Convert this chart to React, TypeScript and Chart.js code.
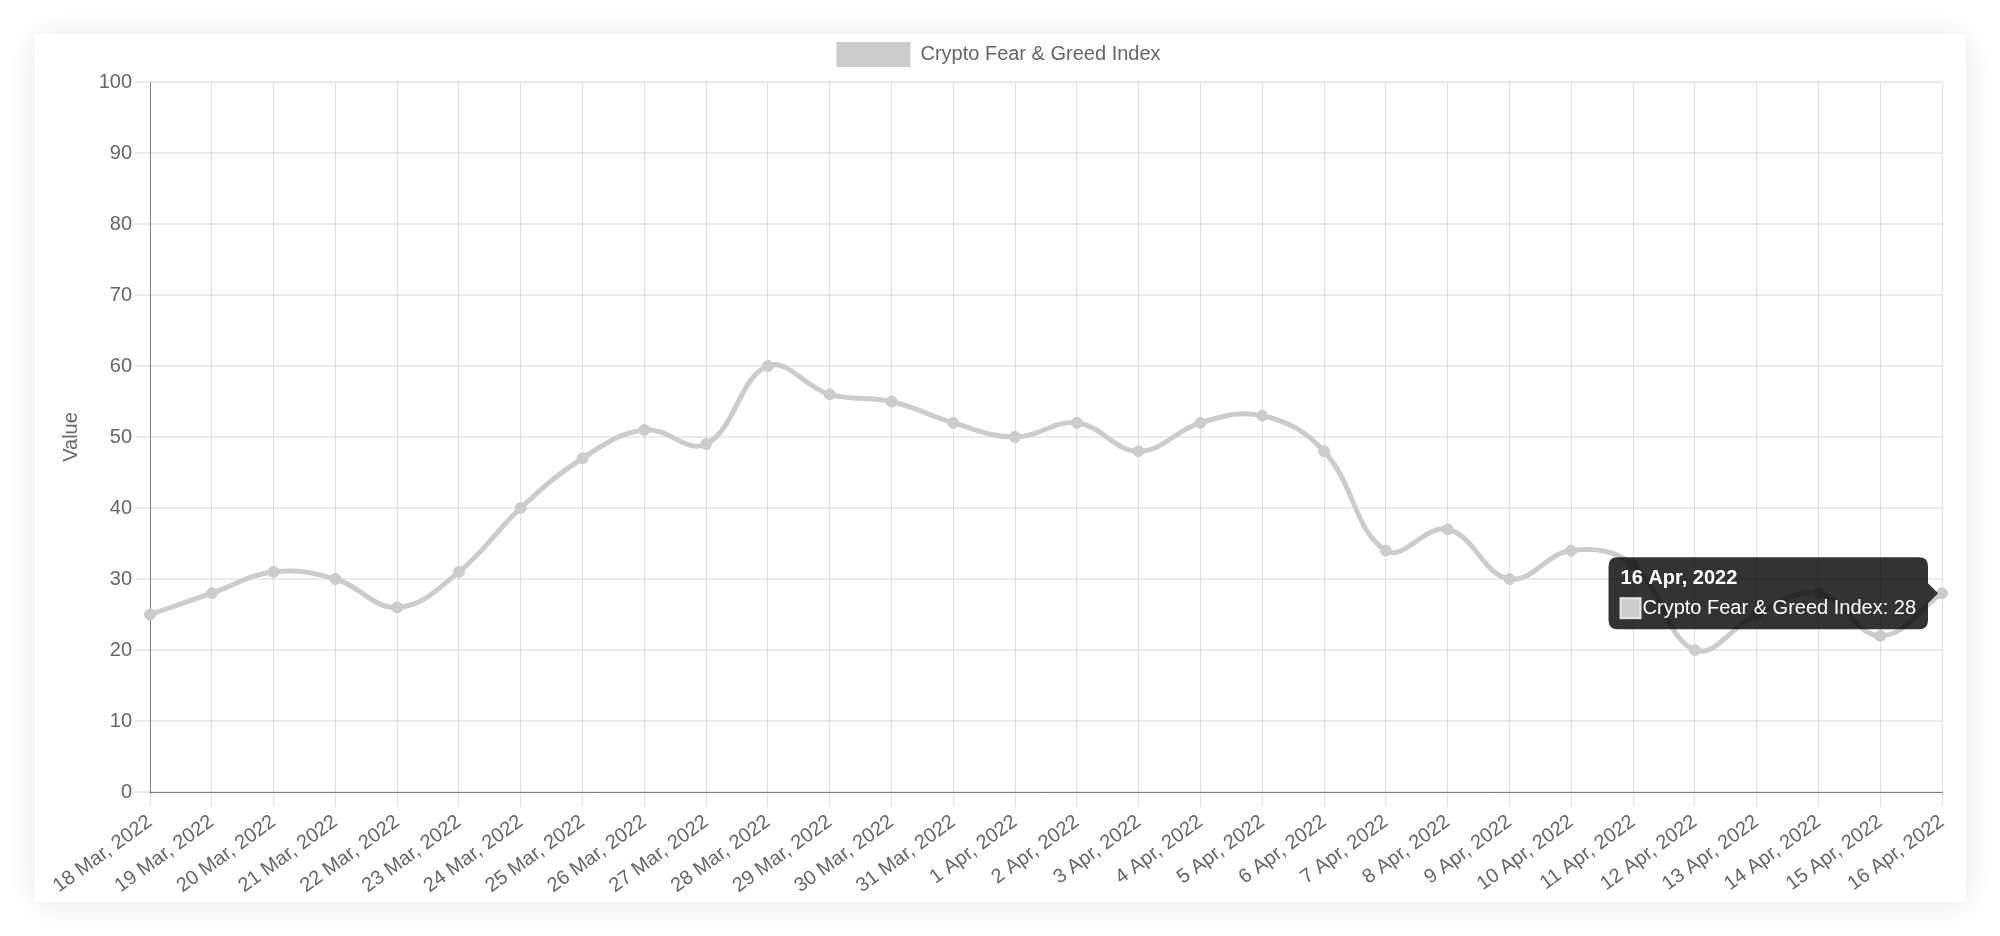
import React, { useEffect, useRef } from "react";
import { Chart, registerables } from "chart.js";

Chart.register(...registerables);

const FONT = "'Liberation Sans', Arial, Helvetica, sans-serif";

const categories = [
  "18 Mar, 2022", "19 Mar, 2022", "20 Mar, 2022", "21 Mar, 2022", "22 Mar, 2022",
  "23 Mar, 2022", "24 Mar, 2022", "25 Mar, 2022", "26 Mar, 2022", "27 Mar, 2022",
  "28 Mar, 2022", "29 Mar, 2022", "30 Mar, 2022", "31 Mar, 2022", "1 Apr, 2022",
  "2 Apr, 2022", "3 Apr, 2022", "4 Apr, 2022", "5 Apr, 2022", "6 Apr, 2022",
  "7 Apr, 2022", "8 Apr, 2022", "9 Apr, 2022", "10 Apr, 2022", "11 Apr, 2022",
  "12 Apr, 2022", "13 Apr, 2022", "14 Apr, 2022", "15 Apr, 2022", "16 Apr, 2022",
];

const fearGreedValues = [
  25, 28, 31, 30, 26, 31, 40, 47, 51, 49,
  60, 56, 55, 52, 50, 52, 48, 52, 53, 48,
  34, 37, 30, 34, 32, 20, 25, 28, 22, 28,
];

const seriesName = "Crypto Fear & Greed Index";
const yAxisTitle = "Value";
const yMin = 0;
const yMax = 100;
const yStep = 10;
const activeIndex = 29;

const legendSpacer = {
  id: "legendSpacer",
  beforeInit(chart: any) {
    const lg = chart.legend;
    if (!lg) return;
    const fit = lg.fit;
    lg.fit = function () {
      fit.call(this);
      this.height += 5;
    };
  },
};

export default function App() {
  const ref = useRef<HTMLCanvasElement | null>(null);

  useEffect(() => {
    if (!ref.current) return;
    const chart = new Chart(ref.current, {
      type: "line",
      data: {
        labels: categories,
        datasets: [
          {
            label: seriesName,
            data: fearGreedValues,
            borderColor: "rgb(204,204,204)",
            backgroundColor: "rgb(204,204,204)",
            borderWidth: 5,
            tension: 0.4,
            fill: false,
            pointRadius: 5.5,
            pointBorderWidth: 1,
            pointBorderColor: "rgb(204,204,204)",
            pointBackgroundColor: "rgb(204,204,204)",
            pointHoverRadius: 5.5,
            pointHoverBorderWidth: 1,
            pointHoverBorderColor: "rgb(204,204,204)",
            pointHoverBackgroundColor: "rgb(204,204,204)",
          },
        ],
      },
      plugins: [legendSpacer],
      options: {
        responsive: false,
        animation: false,
        events: [],
        layout: { padding: { left: 20, right: 24, top: 0, bottom: 0 } },
        plugins: {
          legend: {
            display: true,
            labels: {
              boxWidth: 74,
              boxHeight: 25,
              padding: 8,
              color: "#666",
              font: { size: 20, family: FONT },
              generateLabels: (c: any) =>
                (Chart.defaults.plugins.legend.labels as any)
                  .generateLabels(c)
                  .map((l: any) => ({ ...l, lineWidth: 0, fillStyle: "rgb(204,204,204)" })),
            },
          },
          tooltip: {
            enabled: true,
            backgroundColor: "rgba(0,0,0,0.8)",
            titleColor: "#fff",
            bodyColor: "#fff",
            titleFont: { size: 20, weight: "bold", family: FONT },
            bodyFont: { size: 20, family: FONT },
            padding: { x: 12, y: 9 } as any,
            cornerRadius: 9,
            caretSize: 10,
            caretPadding: 4,
            titleMarginBottom: 6,
            boxWidth: 20,
            boxHeight: 20,
            displayColors: true,
            callbacks: {
              labelColor: () => ({
                borderColor: "#e4e4e4",
                backgroundColor: "#cccccc",
                borderWidth: 2,
              }) as any,
            },
          },
        },
        scales: {
          x: {
            grid: { color: "rgba(0,0,0,0.12)", lineWidth: 1, tickLength: 15 },
            border: { color: "rgba(0,0,0,0.45)", width: 1 },
            ticks: {
              color: "#666",
              font: { size: 20, family: FONT },
              minRotation: 36,
              maxRotation: 36,
              autoSkip: false,
              padding: 3,
            },
            afterFit: (s: any) => {
              s.height = 110;
            },
          },
          y: {
            min: yMin,
            max: yMax,
            grid: { color: "rgba(0,0,0,0.08)", lineWidth: 2, tickLength: 15 },
            border: { color: "rgba(0,0,0,0.45)", width: 1 },
            ticks: {
              stepSize: yStep,
              color: "#666",
              font: { size: 20, family: FONT },
              padding: 3,
            },
            title: {
              display: true,
              text: yAxisTitle,
              color: "#666",
              font: { size: 20, family: FONT },
              padding: { top: 4, bottom: 16 },
            },
            afterFit: (s: any) => {
              s.width = 95;
            },
          },
        },
      },
    });

    const pt: any = chart.getDatasetMeta(0).data[activeIndex];
    chart.setActiveElements([{ datasetIndex: 0, index: activeIndex }]);
    chart.tooltip?.setActiveElements([{ datasetIndex: 0, index: activeIndex }], { x: pt.x, y: pt.y });
    chart.update();

    return () => chart.destroy();
  }, []);

  return (
    <div style={{ position: "fixed", left: 0, top: 0, width: 2000, height: 936, background: "#fff", overflow: "hidden" }}>
      <div
        style={{
          position: "absolute",
          left: 35,
          top: 34,
          width: 1931,
          height: 868,
          background: "#fff",
          boxShadow: "0 2px 36px rgba(0,0,0,0.09)",
        }}
      >
        <canvas ref={ref} width={1931} height={868} style={{ display: "block" }} />
      </div>
    </div>
  );
}
